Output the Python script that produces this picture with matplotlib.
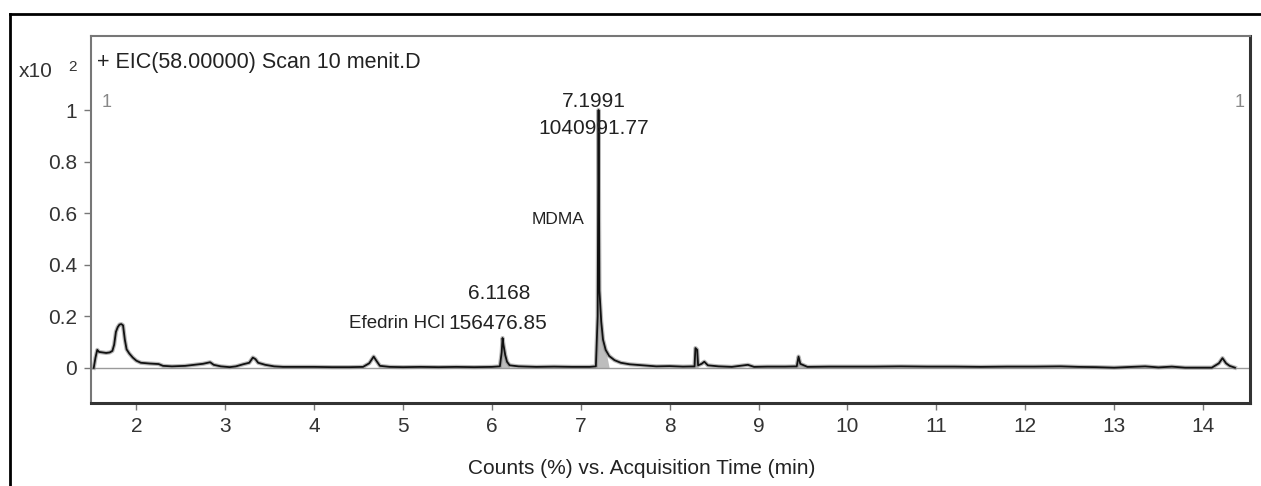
import numpy as np
import matplotlib
matplotlib.use("Agg")
import matplotlib.pyplot as plt
from matplotlib.lines import Line2D

plt.rcParams['font.family'] = ['Liberation Sans', 'DejaVu Sans']

# EIC trace (time in min, counts in x10^2 %)
time_min = [1.52, 1.54, 1.56, 1.58, 1.62, 1.66, 1.70, 1.73, 1.75, 1.77, 1.79, 1.81, 1.83, 1.85,
            1.87, 1.89, 1.92, 1.96, 2.00, 2.05, 2.15, 2.25, 2.30, 2.40, 2.55, 2.65, 2.75, 2.83,
            2.87, 2.95, 3.05, 3.12, 3.20, 3.27, 3.31, 3.34, 3.37, 3.45, 3.55, 3.65, 3.80, 4.00,
            4.20, 4.40, 4.55, 4.62, 4.67, 4.70, 4.74, 4.85, 5.00, 5.20, 5.40, 5.60, 5.80, 6.00,
            6.09, 6.11, 6.12, 6.13, 6.15, 6.17, 6.20, 6.30, 6.50, 6.70, 6.90, 7.10, 7.17, 7.19,
            7.20, 7.21, 7.23, 7.25, 7.28, 7.32, 7.38, 7.45, 7.55, 7.70, 7.85, 8.00, 8.15, 8.28,
            8.29, 8.31, 8.32, 8.36, 8.39, 8.43, 8.55, 8.70, 8.88, 8.95, 9.10, 9.30, 9.43, 9.45,
            9.47, 9.55, 9.80, 10.00, 10.30, 10.60, 10.90, 11.20, 11.50, 11.80, 12.10, 12.40,
            12.60, 12.80, 13.00, 13.20, 13.35, 13.50, 13.65, 13.80, 14.10, 14.18, 14.22, 14.26,
            14.30, 14.36]
counts = [0.000, 0.040, 0.070, 0.062, 0.060, 0.058, 0.060, 0.066, 0.090, 0.140, 0.158, 0.168,
          0.170, 0.165, 0.110, 0.072, 0.056, 0.040, 0.028, 0.020, 0.017, 0.015, 0.008, 0.006,
          0.008, 0.012, 0.016, 0.022, 0.012, 0.006, 0.003, 0.006, 0.014, 0.020, 0.040, 0.034,
          0.020, 0.012, 0.006, 0.004, 0.004, 0.004, 0.003, 0.003, 0.004, 0.018, 0.044, 0.028,
          0.008, 0.004, 0.003, 0.004, 0.003, 0.004, 0.003, 0.004, 0.006, 0.060, 0.116, 0.090,
          0.050, 0.024, 0.010, 0.006, 0.004, 0.005, 0.004, 0.004, 0.006, 0.200, 1.000, 0.300,
          0.180, 0.110, 0.070, 0.046, 0.030, 0.020, 0.014, 0.010, 0.006, 0.007, 0.005, 0.006,
          0.077, 0.070, 0.010, 0.016, 0.024, 0.010, 0.006, 0.004, 0.012, 0.004, 0.005, 0.005,
          0.006, 0.044, 0.016, 0.004, 0.005, 0.005, 0.005, 0.006, 0.005, 0.005, 0.004, 0.005,
          0.005, 0.006, 0.004, 0.003, 0.001, 0.004, 0.006, 0.002, 0.005, 0.001, 0.001, 0.018,
          0.038, 0.018, 0.008, 0.001]

# integrated peak windows (shaded grey)
peak_windows = [(6.10, 6.17), (7.18, 7.30), (8.28, 8.32), (9.43, 9.47)]

x_ticks = [2, 3, 4, 5, 6, 7, 8, 9, 10, 11, 12, 13, 14]
y_ticks = [0, 0.2, 0.4, 0.6, 0.8, 1]
y_tick_labels = ["0", "0.2", "0.4", "0.6", "0.8", "1"]

t = np.array(time_min)
c = np.array(counts)

fig = plt.figure(figsize=(12.61, 4.86), dpi=100)
ax = fig.add_axes([0.0722, 0.1708, 0.9191, 0.7551])

for lo, hi in peak_windows:
    mask = (t >= lo) & (t <= hi)
    ax.fill_between(t, 0, c, where=mask, color="#bdbdbd", lw=0, interpolate=True)

ax.axhline(0, color="#9a9a9a", lw=1.0, zorder=1)
# soft grey halo reproduces the blurred, scanned look of the spike
ax.plot(t, c, color="#8a8a8a", lw=3.0, alpha=0.6, zorder=2)
ax.plot(t, c, color="#111111", lw=1.3, zorder=3)

ax.set_xlim(1.49, 14.53)
ax.set_ylim(-0.136, 1.287)
ax.set_xticks(x_ticks)
ax.set_yticks(y_ticks)
ax.set_yticklabels(y_tick_labels)
ax.tick_params(axis="both", direction="out", length=5, width=1, color="#777777",
               labelsize=15, labelcolor="#333333", pad=5)

for side in ["top", "left"]:
    ax.spines[side].set_color("#777777")
    ax.spines[side].set_linewidth(1.5)
for side in ["right", "bottom"]:
    ax.spines[side].set_color("#333333")
    ax.spines[side].set_linewidth(2.2)

# text inside the plot
ax.text(0.005, 0.929, "+ EIC(58.00000) Scan 10 menit.D", transform=ax.transAxes,
        fontsize=15.5, color="#222222", va="center", ha="left")
ax.text(0.0095, 0.82, "1", transform=ax.transAxes, fontsize=13, color="#888888",
        va="center", ha="left")
ax.text(0.987, 0.82, "1", transform=ax.transAxes, fontsize=13, color="#888888",
        va="center", ha="left")

ax.text(7.15, 1.032, "7.1991", fontsize=15, color="#222222", ha="center", va="center")
ax.text(7.15, 0.929, "1040991.77", fontsize=15, color="#222222", ha="center", va="center")
ax.text(6.74, 0.574, "MDMA", fontsize=12.5, color="#222222", ha="center", va="center")
ax.text(6.08, 0.29, "6.1168", fontsize=15, color="#222222", ha="center", va="center")
ax.text(6.07, 0.174, "156476.85", fontsize=15, color="#222222", ha="center", va="center")
ax.text(5.47, 0.174, "Efedrin HCl", fontsize=13.5, color="#222222", ha="right", va="center")

# y multiplier and x label
fig.text(0.015, 0.852, "x10", fontsize=15, color="#333333", ha="left", va="center")
fig.text(0.054, 0.862, "2", fontsize=11, color="#333333", ha="left", va="center")
fig.text(642 / 1261, 1 - 468 / 486, "Counts (%) vs. Acquisition Time (min)", fontsize=15,
         color="#222222", ha="center", va="center")

# outer frame (only left and top edges are visible in the crop)
fig.add_artist(Line2D([10 / 1261, 10 / 1261], [0, 1 - 14 / 486], color="black", lw=2))
fig.add_artist(Line2D([10 / 1261, 1], [1 - 14 / 486, 1 - 14 / 486], color="black", lw=2))

fig.savefig("out.png", dpi=100)
